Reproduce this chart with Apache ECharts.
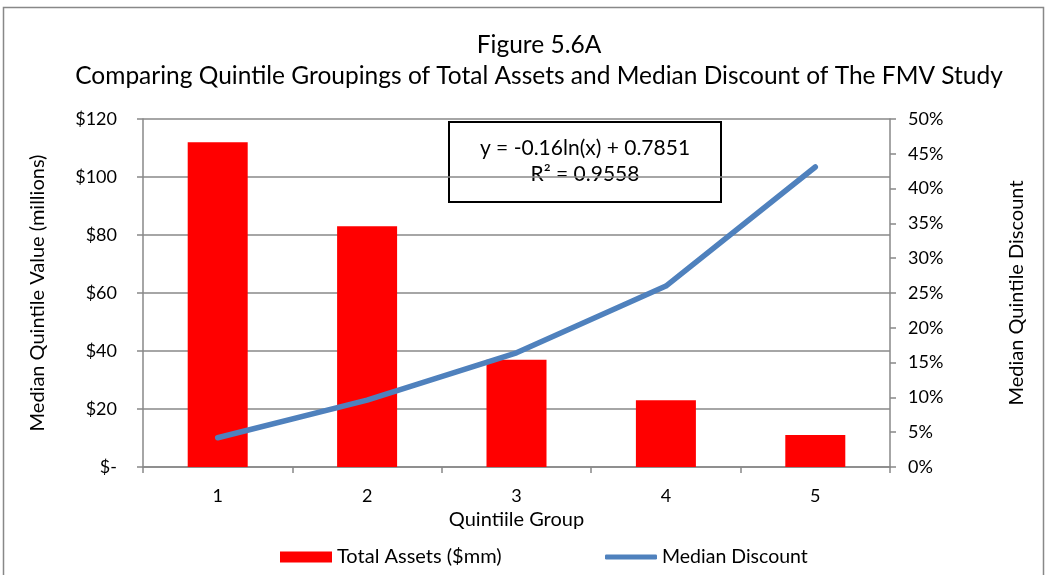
<!DOCTYPE html>
<html>
<head>
<meta charset="utf-8">
<script src="https://cdn.jsdelivr.net/npm/echarts@6/dist/echarts.min.js"></script>
<style>html,body{margin:0;padding:0;background:#fff}#c{width:1047px;height:575px}</style>
</head>
<body>
<div id="c"></div>
<script>
const categories = ['1', '2', '3', '4', '5'];
const totalAssets = [112, 83, 37, 23, 11];
const medianDiscount = [0.042, 0.096, 0.164, 0.260, 0.431];
const leftTicks = {min: 0, max: 120, interval: 20};
const rightTicks = {min: 0, max: 0.5, interval: 0.05};
const titleLines = ['Figure 5.6A', 'Comparing Quintile Groupings of Total Assets and Median Discount of The FMV Study'];
const trendText = ['y = -0.16ln(x) + 0.7851', 'R² = 0.9558'];

const FONT = 'Lato';
const chart = echarts.init(document.getElementById('c'), null, {renderer: 'canvas'});
chart.setOption({
  animation: false,
  backgroundColor: '#fff',
  textStyle: {fontFamily: FONT, color: '#000'},
  title: {
    text: titleLines.join('\n'),
    left: 534, textAlign: 'center', top: 25,
    textStyle: {fontFamily: FONT, fontSize: 24.5, fontWeight: 'normal', color: '#000', lineHeight: 31}
  },
  grid: {left: 143, right: 157, top: 119, bottom: 108, containLabel: false},
  legend: [
    {
      left: 275, top: 542,
      itemWidth: 52, itemHeight: 11,
      textStyle: {fontFamily: FONT, fontSize: 20, color: '#000'},
      data: [{name: 'Total Assets ($mm)', icon: 'rect'}]
    },
    {
      left: 600, top: 542,
      itemWidth: 52, itemHeight: 5, itemGap: 3,
      textStyle: {fontFamily: FONT, fontSize: 19.5, color: '#000'},
      data: [{name: 'Median Discount', icon: 'roundRect', itemStyle: {color: '#4F81BD'}}]
    }
  ],
  xAxis: {
    type: 'category', data: categories,
    name: 'Quintiile Group', nameLocation: 'middle', nameGap: 40,
    nameTextStyle: {fontFamily: FONT, fontSize: 20, color: '#000'},
    axisLine: {lineStyle: {color: '#888', width: 1.5}},
    axisTick: {show: true, inside: false, length: 6, lineStyle: {color: '#888', width: 1.5}},
    axisLabel: {fontFamily: FONT, fontSize: 18, color: '#000', margin: 20}
  },
  yAxis: [
    {
      type: 'value', min: leftTicks.min, max: leftTicks.max, interval: leftTicks.interval,
      name: 'Median Quintile Value (millions)', nameLocation: 'middle', nameGap: 95, nameRotate: 90,
      nameTextStyle: {fontFamily: FONT, fontSize: 20, color: '#000'},
      axisLine: {show: true, lineStyle: {color: '#888', width: 1.5}},
      axisTick: {show: true, length: 6, lineStyle: {color: '#888', width: 1.5}},
      splitLine: {show: true, lineStyle: {color: '#888', width: 1.5}},
      axisLabel: {fontFamily: FONT, fontSize: 18, color: '#000', margin: 26,
        formatter: v => v === 0 ? '$-' : '$' + v}
    },
    {
      type: 'value', min: rightTicks.min, max: rightTicks.max, interval: rightTicks.interval,
      name: 'Median Quintile Discount', nameLocation: 'middle', nameGap: 117, nameRotate: 90,
      nameTextStyle: {fontFamily: FONT, fontSize: 20, color: '#000'},
      axisLine: {show: true, lineStyle: {color: '#888', width: 1.5}},
      axisTick: {show: true, length: 6, lineStyle: {color: '#888', width: 1.5}},
      splitLine: {show: false},
      axisLabel: {fontFamily: FONT, fontSize: 18, color: '#000', margin: 18,
        formatter: v => Math.round(v * 100) + '%'}
    }
  ],
  series: [
    {
      name: 'Total Assets ($mm)', type: 'bar', data: totalAssets, yAxisIndex: 0,
      barWidth: 60, itemStyle: {color: '#FF0000'}
    },
    {
      name: 'Median Discount', type: 'line', data: medianDiscount, yAxisIndex: 1,
      symbol: 'none', lineStyle: {color: '#4F81BD', width: 5.5, cap: 'round', join: 'round'},
      itemStyle: {color: '#4F81BD'}
    }
  ],
  graphic: [
    {type: 'rect', shape: {x: 3.5, y: 7.5, width: 1040, height: 620}, style: {fill: 'none', stroke: '#888', lineWidth: 1.5}, silent: true, z: 0},
    {type: 'group', left: 448, top: 121, z: 100, children: [
      {type: 'rect', shape: {x: 0, y: 0, width: 272, height: 80}, style: {fill: '#fff', stroke: '#000', lineWidth: 2}},
      {type: 'text', x: 136, y: 26, style: {text: trendText[0], fontFamily: FONT, fontSize: 21, fill: '#000', align: 'center', verticalAlign: 'middle'}},
      {type: 'text', x: 136, y: 52, style: {text: trendText[1], fontFamily: FONT, fontSize: 21, fill: '#000', align: 'center', verticalAlign: 'middle'}}
    ]}
  ]
});
</script>
</body>
</html>
